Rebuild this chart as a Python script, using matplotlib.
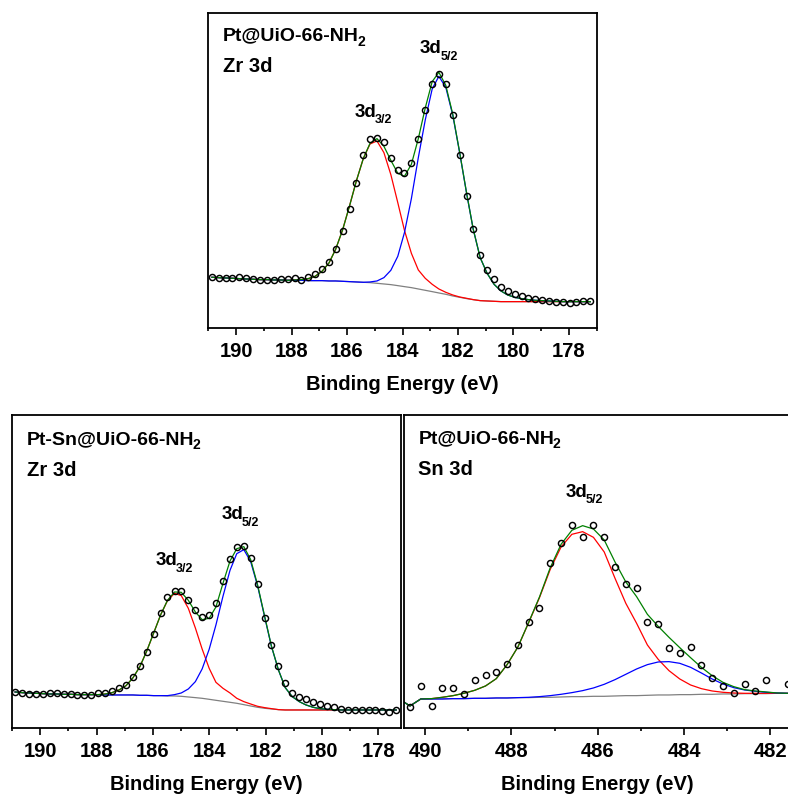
import numpy as np
import matplotlib
matplotlib.use('Agg')
import matplotlib.pyplot as plt
from matplotlib.ticker import MultipleLocator

plt.rcParams['font.family'] = ['Liberation Sans', 'DejaVu Sans']
plt.rcParams['font.weight'] = 'bold'

# ---------------- data: Pt@UiO-66-NH2, Zr 3d ----------------
zr1_x = [190.87, 190.62, 190.37, 190.13, 189.88, 189.63, 189.38, 189.13, 188.89, 188.64,
         188.39, 188.14, 187.89, 187.65, 187.40, 187.15, 186.90, 186.65, 186.41, 186.16,
         185.91, 185.66, 185.41, 185.17, 184.92, 184.67, 184.42, 184.17, 183.93, 183.68,
         183.43, 183.18, 182.93, 182.69, 182.44, 182.19, 181.94, 181.69, 181.45, 181.20,
         180.95, 180.70, 180.45, 180.21, 179.96, 179.71, 179.46, 179.21, 178.97, 178.72,
         178.47, 178.22, 177.97, 177.73, 177.48, 177.23]
zr1_y = [153, 150, 152, 152, 154, 150, 149, 145, 145, 145,
         147, 147, 152, 145, 153, 162, 177, 200, 237, 293,
         358, 437, 519, 567, 572, 559, 511, 475, 466, 497,
         569, 654, 734, 762, 734, 640, 520, 397, 299, 220,
         175, 147, 125, 111, 103, 97, 92, 88, 85, 83,
         80, 79, 75, 80, 82, 82]
zr1_bg = [153, 152, 151, 150, 149, 148, 147, 146, 146, 145,
          145, 144, 144, 144, 143, 143, 143, 142, 142, 141,
          140, 139, 138, 137, 135, 133, 131, 128, 125, 122,
          118, 114, 110, 106, 102, 97, 93, 89, 86, 83,
          82, 81, 80, 80, 80, 80, 80, 80, 80, 80,
          80, 80, 80, 80, 80, 80]
zr1_red = [153, 152, 151, 150, 149, 148, 147, 146, 146, 145,
           145, 144, 145, 146, 149, 156, 171, 196, 237, 295,
           367, 443, 510, 553, 562, 527, 461, 377, 294, 225,
           175, 150, 132, 118, 108, 100, 94, 90, 86, 83,
           82, 81, 80, 80, 80, 80, 80, 80, 80, 80,
           80, 80, 80, 80, 80, 80]
zr1_blue = [153, 152, 151, 150, 149, 148, 147, 146, 146, 145,
            145, 144, 144, 144, 143, 143, 143, 142, 142, 141,
            140, 139, 138, 139, 142, 152, 174, 216, 287, 389,
            512, 625, 718, 756, 723, 640, 527, 405, 297, 212,
            165, 132, 112, 100, 93, 89, 86, 84, 83, 82,
            81, 80, 80, 80, 80, 80]
zr1_fit = [153, 152, 151, 150, 149, 148, 147, 146, 146, 145,
           145, 144, 145, 146, 149, 156, 171, 196, 237, 295,
           367, 443, 510, 555, 569, 546, 504, 465, 456, 492,
           569, 661, 740, 768, 729, 643, 528, 406, 297, 212,
           165, 132, 112, 100, 93, 89, 86, 84, 83, 82,
           81, 80, 80, 80, 80, 80]

# ---------------- data: Pt-Sn@UiO-66-NH2, Zr 3d ----------------
zr2_x = [190.89, 190.64, 190.40, 190.15, 189.91, 189.66, 189.41, 189.17, 188.92, 188.68,
         188.43, 188.18, 187.94, 187.69, 187.45, 187.20, 186.95, 186.71, 186.46, 186.22,
         185.97, 185.72, 185.48, 185.23, 184.99, 184.74, 184.49, 184.25, 184.00, 183.76,
         183.51, 183.26, 183.02, 182.77, 182.53, 182.28, 182.03, 181.79, 181.54, 181.30,
         181.05, 180.80, 180.56, 180.31, 180.07, 179.82, 179.57, 179.33, 179.08, 178.84,
         178.59, 178.34, 178.10, 177.85, 177.61, 177.36]
zr2_y = [110, 107, 103, 103, 103, 105, 105, 102, 102, 101,
         101, 101, 105, 105, 113, 122, 130, 155, 187, 230,
         283, 345, 393, 412, 412, 385, 355, 333, 340, 375,
         442, 507, 545, 547, 510, 432, 330, 249, 187, 137,
         107, 95, 88, 78, 73, 67, 63, 57, 55, 55,
         55, 55, 55, 53, 50, 55]
zr2_bg = [109, 107, 106, 105, 104, 103, 103, 102, 102, 101,
          101, 101, 101, 100, 100, 100, 100, 100, 99, 99,
          98, 98, 97, 97, 96, 94, 92, 90, 87, 84,
          81, 78, 75, 71, 67, 63, 60, 58, 56, 55,
          55, 55, 55, 55, 55, 55, 55, 55, 55, 55,
          55, 55, 55, 55, 55, 55]
zr2_red = [109, 107, 106, 105, 104, 103, 103, 102, 102, 101,
           101, 101, 101, 103, 107, 115, 128, 151, 185, 231,
           286, 341, 383, 405, 398, 360, 301, 238, 180, 138,
           120, 106, 90, 80, 73, 66, 62, 59, 56, 55,
           55, 55, 55, 55, 55, 55, 55, 55, 55, 55,
           55, 55, 55, 55, 55, 55]
zr2_blue = [109, 107, 106, 105, 104, 103, 103, 102, 102, 101,
            101, 101, 101, 100, 100, 100, 100, 100, 99, 99,
            98, 98, 98, 101, 106, 118, 140, 178, 237, 310,
            396, 474, 524, 536, 501, 427, 334, 246, 175, 122,
            95, 80, 70, 63, 59, 57, 56, 55, 55, 55,
            55, 55, 55, 55, 55, 55]
zr2_fit = [109, 107, 106, 105, 104, 103, 103, 102, 102, 101,
           101, 101, 101, 103, 107, 115, 128, 151, 185, 231,
           286, 341, 384, 409, 408, 384, 349, 326, 330, 364,
           435, 502, 539, 545, 507, 430, 336, 247, 175, 122,
           95, 80, 70, 63, 59, 57, 56, 55, 55, 55,
           55, 55, 55, 55, 55, 55]

# ---------------- data: Pt@UiO-66-NH2, Sn 3d ----------------
sn_x = [490.35, 490.10, 489.85, 489.60, 489.35, 489.10, 488.85, 488.60, 488.35, 488.10,
        487.85, 487.60, 487.35, 487.10, 486.85, 486.60, 486.35, 486.10, 485.85, 485.60,
        485.35, 485.10, 484.85, 484.60, 484.35, 484.10, 483.85, 483.60, 483.35, 483.10,
        482.85, 482.60, 482.35, 482.10, 481.60]
sn_y = [65, 128, 68, 122, 122, 103, 145, 160, 170, 193,
        250, 318, 360, 497, 557, 610, 575, 610, 573, 483,
        432, 420, 320, 312, 240, 225, 243, 190, 152, 127,
        105, 133, 113, 145, 132]
sn_fit_x = [490.60, 490.35, 490.10, 489.85, 489.60, 489.35, 489.10, 488.85, 488.60, 488.35,
            488.10, 487.85, 487.60, 487.35, 487.10, 486.85, 486.60, 486.35, 486.10, 485.85,
            485.60, 485.35, 485.10, 484.85, 484.60, 484.35, 484.10, 483.85, 483.60, 483.35,
            483.10, 482.85, 482.60, 482.35, 482.10, 481.85, 481.60]
sn_bg = [88, 67, 88, 88, 88, 89, 89, 90, 90, 91,
         91, 92, 92, 93, 93, 94, 95, 95, 96, 96,
         97, 98, 98, 99, 100, 100, 101, 101, 102, 102,
         103, 103, 104, 104, 104, 105, 105]
sn_red = [88, 67, 88, 89, 93, 98, 105, 114, 127, 149,
          191, 244, 317, 392, 477, 544, 582, 590, 573, 529,
          450, 375, 315, 250, 207, 173, 148, 130, 119, 112,
          108, 106, 105, 105, 105, 105, 105]
sn_blue = [88, 67, 88, 88, 88, 89, 89, 90, 90, 91,
           91, 92, 93, 95, 98, 102, 107, 113, 121, 132,
           146, 162, 178, 191, 199, 200, 195, 183, 166, 148,
           133, 122, 115, 111, 108, 106, 105]
sn_fit = [88, 67, 88, 89, 93, 98, 105, 114, 127, 149,
          191, 244, 318, 394, 482, 552, 594, 608, 598, 565,
          499, 439, 395, 342, 306, 273, 242, 212, 183, 158,
          138, 125, 116, 112, 109, 106, 105]

# ---------------- figure ----------------
W, H = 788, 798
fig = plt.figure(figsize=(W / 100, H / 100), dpi=100)
renderer = fig.canvas.get_renderer()


def box(l, t, r, b):
    return [l / W, 1 - b / H, (r - l) / W, (b - t) / H]


def label(x, y, main, size, sub=None, subsize=9, drop=6):
    t = fig.text(x / W, 1 - y / H, main, fontsize=size, fontweight='bold',
                 ha='left', va='baseline')
    if sub:
        bb = t.get_window_extent(renderer)
        fig.text((bb.x1 - 1.5) / W, 1 - (y + drop) / H, sub, fontsize=subsize,
                 fontweight='bold', ha='left', va='baseline')


def panel(rect, xlim, ylim, xp, yp, xf, bg, red, blue, fit):
    ax = fig.add_axes(rect)
    lw = 0.9
    ax.plot(xf, bg, color='#808080', lw=lw)
    ax.plot(xf, red, color='#ff0000', lw=lw)
    ax.plot(xf, blue, color='#0000ff', lw=lw)
    ax.plot(xf, fit, color='#008000', lw=lw)
    ax.plot(xp, yp, 'o', mfc='none', mec='black', ms=4.4, mew=1.05)
    ax.set_xlim(*xlim)
    ax.set_ylim(*ylim)
    ax.xaxis.set_major_locator(MultipleLocator(2))
    ax.xaxis.set_minor_locator(MultipleLocator(1))
    ax.set_yticks([])
    ax.tick_params(axis='x', which='major', direction='out', length=4.8,
                   width=1.2, labelsize=14.5, pad=5)
    ax.tick_params(axis='x', which='minor', direction='out', length=2.4, width=1.2)
    for s in ax.spines.values():
        s.set_linewidth(1.3)
    ax.set_xlabel('Binding Energy (eV)', fontsize=14.5, fontweight='bold', labelpad=10.5)
    return ax


panel(box(208.3, 13.3, 596.7, 328.3), (191, 177), (0, 945),
      zr1_x, zr1_y, zr1_x, zr1_bg, zr1_red, zr1_blue, zr1_fit)
panel(box(12, 415, 400.7, 728.3), (191, 177.2), (0, 940),
      zr2_x, zr2_y, zr2_x, zr2_bg, zr2_red, zr2_blue, zr2_fit)
panel(box(403.5, 415, 792, 728.3), (490.5, 481.5), (0, 940),
      sn_x, sn_y, sn_fit_x, sn_bg, sn_red, sn_blue, sn_fit)

# annotations
label(222.7, 40.7, 'Pt@UiO-66-NH', 14, '2', 10, 5)
label(222.7, 71.7, 'Zr 3d', 14.5)
label(355, 116.7, '3d', 13.5, '3/2', 9, 6.5)
label(420, 53.3, '3d', 13.5, '5/2', 9, 6.5)

label(26.7, 444.3, 'Pt-Sn@UiO-66-NH', 14, '2', 10, 5)
label(26.7, 476, 'Zr 3d', 14.5)
label(156, 565, '3d', 13.5, '3/2', 9, 6.5)
label(221.7, 519, '3d', 13.5, '5/2', 9, 6.5)

label(418.3, 443.3, 'Pt@UiO-66-NH', 14, '2', 10, 5)
label(418.3, 475, 'Sn 3d', 14.5)
label(565.7, 496.7, '3d', 13.5, '5/2', 9, 6.5)

fig.savefig('out.png', dpi=100)
